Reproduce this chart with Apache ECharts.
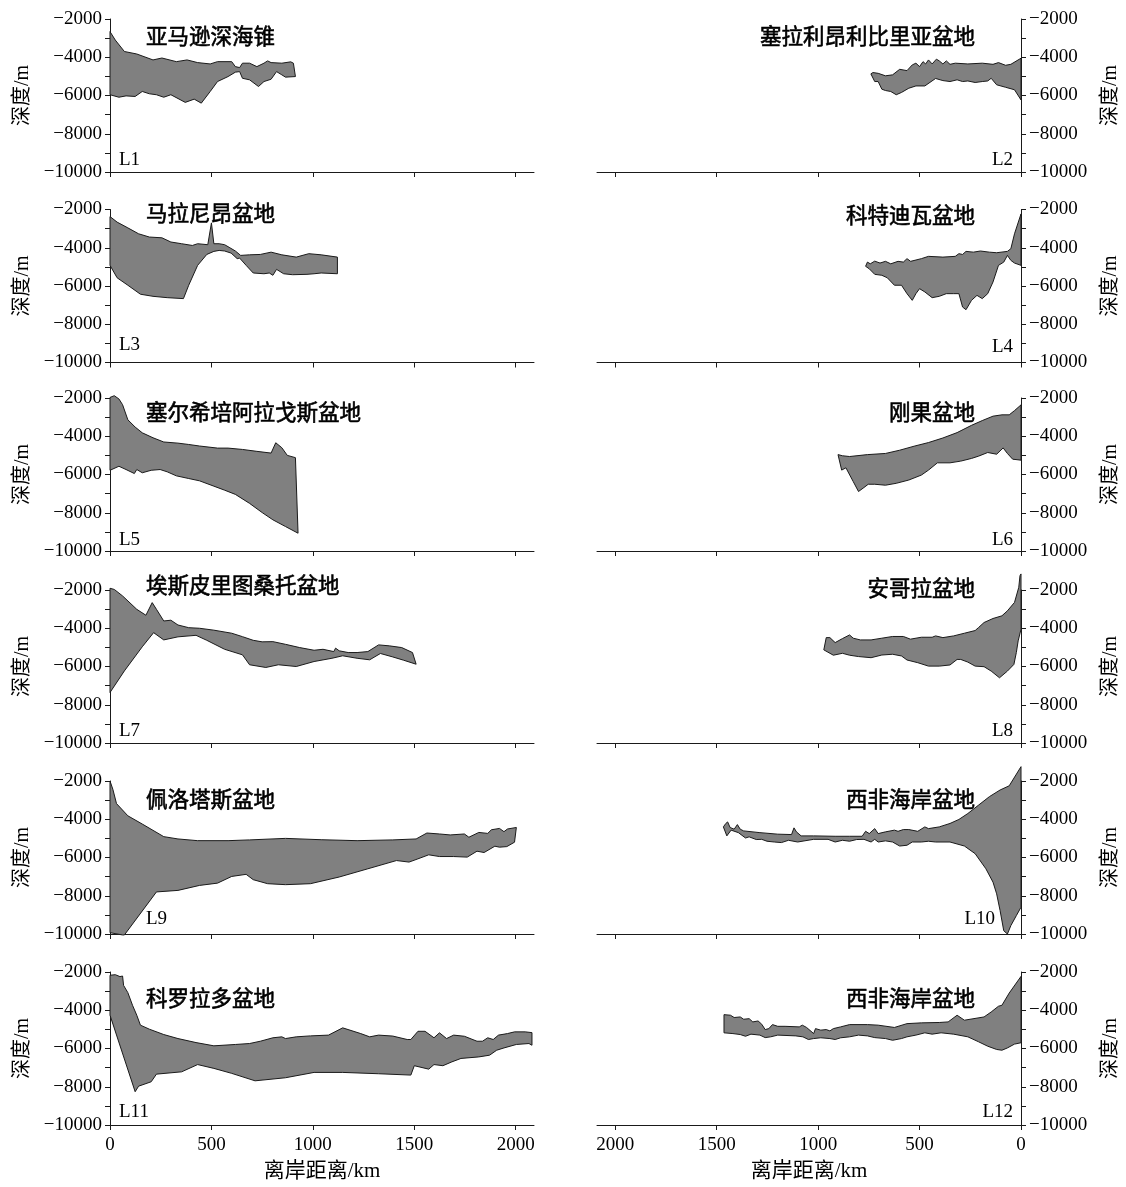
<!DOCTYPE html>
<html><head><meta charset="utf-8">
<script src="https://cdn.jsdelivr.net/npm/echarts@6/dist/echarts.min.js"></script>
<style>html,body{margin:0;padding:0;background:#fff}#c{width:1126px;height:1187px}</style>
</head><body><div id="c"></div>
<script>
// ---- tick labels ----
const xTickLabels = [0, 500, 1000, 1500, 2000];
const yTickLabels = [-10000, -8000, -6000, -4000, -2000];

// ---- panel names / titles ----
const panelNames = ['L1','L2','L3','L4','L5','L6','L7','L8','L9','L10','L11','L12'];
const panelTitles = ['亚马逊深海锥','塞拉利昂利比里亚盆地','马拉尼昂盆地','科特迪瓦盆地','塞尔希培阿拉戈斯盆地','刚果盆地',
  '埃斯皮里图桑托盆地','安哥拉盆地','佩洛塔斯盆地','西非海岸盆地','科罗拉多盆地','西非海岸盆地'];

// ---- data: [distance offshore km, depth m] (top surface and bottom surface) ----
const L1_top = [[0,-2660],[26,-3100],[71,-3700],[132,-3830],[212,-4140],[256,-4040],[327,-4230],[380,-4140],[432,-4280],[494,-4350],[530,-4230],[600,-4230],[618,-4490],[639,-4540],[653,-4310],[688,-4310],[724,-4490],[759,-4310],[777,-4190],[794,-4280],[847,-4310],[891,-4240],[904,-4310],[914,-5010]];
const L1_bot = [[0,-5960],[44,-6090],[79,-6020],[124,-6050],[159,-5790],[194,-5910],[229,-5960],[265,-6090],[300,-5960],[371,-6360],[415,-6190],[450,-6400],[494,-5790],[530,-5270],[582,-5010],[618,-4780],[639,-4750],[653,-5100],[688,-5180],[732,-5530],[759,-5270],[794,-5150],[821,-4750],[847,-4920],[865,-5040],[914,-5010]];

const L2_top = [[740,-4870],[730,-4800],[704,-4840],[668,-4970],[633,-4920],[598,-4630],[562,-4700],[536,-4400],[518,-4310],[500,-4490],[483,-4230],[470,-4350],[456,-4140],[438,-4350],[417,-4100],[403,-4190],[385,-4350],[368,-4190],[350,-4370],[324,-4310],[262,-4350],[191,-4310],[138,-4370],[111,-4280],[76,-4420],[50,-4370],[0,-4050]];
const L2_bot = [[740,-4870],[721,-5270],[704,-5270],[686,-5670],[668,-5740],[642,-5790],[615,-5960],[589,-5840],[553,-5620],[518,-5500],[474,-5500],[421,-5110],[385,-5220],[350,-5270],[315,-5180],[288,-5270],[262,-5240],[226,-5320],[191,-5270],[164,-5240],[147,-5100],[120,-5440],[76,-5570],[32,-5700],[0,-6230]];

const L3_top = [[0,-2370],[35,-2660],[88,-2960],[141,-3270],[194,-3440],[256,-3480],[300,-3700],[353,-3790],[406,-3880],[432,-3790],[482,-3840],[500,-2700],[512,-3790],[538,-3790],[565,-3840],[591,-4000],[618,-4170],[644,-4400],[688,-4370],[741,-4350],[794,-4230],[847,-4370],[918,-4490],[980,-4310],[1041,-4370],[1121,-4490]];
const L3_bot = [[0,-4920],[35,-5570],[88,-5960],[150,-6430],[212,-6540],[282,-6610],[362,-6660],[388,-5960],[432,-4920],[477,-4350],[512,-4190],[538,-4140],[565,-4170],[597,-4280],[627,-4570],[639,-4540],[671,-4920],[706,-5320],[759,-5360],[785,-5320],[803,-5440],[821,-5130],[856,-5360],[900,-5410],[971,-5390],[1006,-5360],[1041,-5320],[1121,-5360]];

const L4_top = [[766,-4970],[757,-4750],[743,-4840],[721,-4700],[695,-4800],[668,-4710],[642,-4840],[606,-4710],[580,-4750],[562,-4570],[544,-4710],[491,-4570],[456,-4450],[385,-4490],[324,-4450],[306,-4310],[288,-4350],[271,-4190],[235,-4230],[200,-4170],[156,-4230],[120,-4260],[67,-4190],[50,-4050],[32,-3270],[0,-2230]];
const L4_bot = [[766,-4970],[748,-5100],[721,-5390],[686,-5440],[659,-5570],[624,-5960],[589,-5960],[562,-6400],[536,-6750],[518,-6400],[500,-6140],[474,-6310],[438,-6610],[403,-6540],[368,-6400],[332,-6400],[306,-6400],[288,-7100],[271,-7240],[244,-6750],[217,-6490],[191,-6660],[164,-6400],[138,-5790],[111,-4920],[85,-4750],[67,-4400],[50,-4660],[32,-4800],[0,-4920]];

const L5_top = [[0,-1970],[21,-1880],[44,-2050],[62,-2350],[88,-3140],[124,-3520],[159,-3820],[212,-4080],[265,-4300],[335,-4360],[388,-4430],[441,-4510],[530,-4620],[582,-4620],[653,-4690],[724,-4790],[794,-4880],[817,-4340],[847,-4600],[874,-5000],[914,-5120]];
const L5_bot = [[0,-5780],[44,-5570],[79,-5740],[120,-5950],[132,-5740],[159,-5910],[203,-5780],[247,-5740],[282,-5860],[327,-6070],[388,-6210],[441,-6330],[512,-6610],[565,-6820],[618,-7040],[688,-7510],[750,-7990],[803,-8370],[865,-8720],[927,-9070]];

const L6_top = [[902,-4960],[880,-5020],[845,-5060],[757,-4960],[668,-4900],[598,-4730],[527,-4520],[456,-4330],[385,-4090],[315,-3810],[244,-3430],[191,-3180],[138,-2950],[94,-2880],[58,-2880],[32,-2660],[0,-2360]];
const L6_bot = [[902,-4960],[884,-5770],[863,-5650],[827,-6370],[801,-6890],[774,-6680],[753,-6510],[721,-6510],[668,-6560],[615,-6460],[553,-6290],[491,-6030],[456,-5770],[412,-5390],[350,-5390],[297,-5300],[244,-5160],[209,-5040],[164,-4850],[120,-4940],[88,-4610],[67,-4900],[41,-5200],[0,-5250]];

const L7_top = [[0,-1910],[21,-1970],[62,-2310],[132,-3010],[177,-3320],[208,-2660],[229,-3010],[265,-3620],[300,-3580],[335,-3830],[388,-3970],[441,-4000],[512,-4100],[600,-4260],[653,-4440],[706,-4630],[750,-4710],[803,-4700],[865,-4840],[935,-5010],[1006,-5150],[1050,-5100],[1103,-5220],[1112,-5040],[1130,-5180],[1174,-5270],[1218,-5270],[1271,-5220],[1324,-4870],[1377,-4920],[1438,-5010],[1491,-5270],[1509,-5880]];
const L7_bot = [[0,-7360],[71,-6230],[159,-4970],[215,-4230],[265,-4610],[335,-4450],[424,-4370],[477,-4630],[565,-5100],[653,-5390],[688,-5910],[768,-6050],[830,-5910],[918,-6000],[1006,-5740],[1094,-5570],[1147,-5440],[1218,-5570],[1280,-5650],[1333,-5320],[1394,-5500],[1447,-5670],[1509,-5880]];

const L8_top = [[972,-5130],[960,-4490],[942,-4490],[916,-4750],[880,-4540],[845,-4350],[827,-4520],[792,-4610],[739,-4610],[686,-4520],[633,-4430],[580,-4430],[545,-4570],[491,-4470],[438,-4470],[421,-4400],[385,-4490],[332,-4400],[279,-4260],[226,-4120],[209,-3960],[182,-3700],[138,-3490],[94,-3350],[67,-3090],[32,-2650],[11,-1860],[5,-1250],[0,-1160]];
const L8_bot = [[972,-5130],[925,-5410],[880,-5310],[845,-5410],[801,-5480],[739,-5540],[686,-5400],[633,-5360],[589,-5450],[562,-5660],[509,-5800],[456,-5980],[403,-5980],[350,-5920],[315,-5630],[297,-5630],[262,-5770],[226,-5980],[182,-6010],[147,-6240],[106,-6590],[67,-6240],[35,-5890],[23,-5270],[14,-4660],[0,-4050]];

const L9_top = [[0,-2000],[14,-2430],[32,-3180],[88,-3820],[159,-4250],[265,-4910],[335,-5030],[432,-5120],[582,-5120],[688,-5080],[865,-5000],[1041,-5070],[1218,-5120],[1394,-5080],[1509,-5030],[1562,-4720],[1624,-4770],[1677,-4820],[1747,-4770],[1769,-4940],[1818,-4690],[1862,-4740],[1880,-4550],[1920,-4480],[1942,-4650],[1959,-4510],[2003,-4430]];
const L9_bot = [[0,-9930],[62,-10050],[71,-10050],[229,-7800],[335,-7720],[441,-7460],[530,-7340],[600,-6990],[671,-6880],[706,-7160],[777,-7370],[865,-7420],[988,-7370],[1130,-7020],[1271,-6590],[1412,-6160],[1474,-6240],[1518,-6070],[1571,-5860],[1624,-5950],[1694,-5950],[1761,-5980],[1809,-5670],[1844,-5740],[1897,-5410],[1920,-5460],[1956,-5430],[1994,-5200],[2003,-4430]];

const L10_top = [[1467,-4400],[1455,-4220],[1446,-4140],[1434,-4430],[1414,-4520],[1398,-4280],[1384,-4520],[1367,-4610],[1287,-4700],[1199,-4780],[1131,-4800],[1119,-4450],[1107,-4660],[1084,-4870],[1022,-4870],[916,-4890],[845,-4890],[783,-4890],[766,-4630],[748,-4750],[721,-4490],[704,-4750],[668,-4660],[624,-4570],[606,-4630],[580,-4540],[553,-4540],[509,-4630],[474,-4400],[456,-4490],[403,-4400],[350,-4220],[306,-4010],[262,-3700],[209,-3260],[156,-2820],[103,-2470],[58,-2250],[0,-1250]];
const L10_bot = [[1467,-4400],[1450,-4870],[1429,-4570],[1393,-4700],[1358,-4980],[1340,-4920],[1305,-5060],[1278,-5050],[1252,-5150],[1216,-5190],[1181,-5220],[1146,-5100],[1101,-5190],[1022,-5050],[951,-5050],[916,-5190],[880,-5100],[845,-5150],[810,-5060],[774,-5050],[739,-5190],[721,-5050],[704,-5190],[668,-5130],[633,-5190],[598,-5400],[562,-5360],[536,-5190],[491,-5190],[456,-5150],[421,-5190],[350,-5190],[279,-5400],[226,-5800],[173,-6590],[138,-7290],[120,-7900],[103,-8780],[85,-9830],[67,-10000],[50,-9560],[23,-9040],[0,-8600]];

const L11_top = [[0,-2170],[26,-2140],[49,-2240],[62,-2210],[67,-2700],[88,-3080],[111,-3740],[132,-4260],[150,-4780],[194,-4990],[265,-5270],[335,-5480],[424,-5690],[512,-5860],[618,-5790],[688,-5740],[741,-5620],[803,-5440],[847,-5390],[865,-5480],[918,-5390],[988,-5340],[1077,-5300],[1147,-4920],[1236,-5220],[1280,-5390],[1324,-5300],[1394,-5350],[1465,-5530],[1483,-5530],[1518,-5100],[1553,-5100],[1597,-5440],[1624,-5180],[1659,-5480],[1694,-5300],[1747,-5360],[1809,-5620],[1836,-5620],[1862,-5440],[1889,-5530],[1915,-5300],[1959,-5220],[1994,-5130],[2047,-5130],[2080,-5170]];
const L11_bot = [[0,-4260],[124,-8260],[141,-7970],[203,-7740],[229,-7340],[353,-7220],[432,-6840],[512,-7040],[600,-7300],[715,-7690],[865,-7530],[1006,-7250],[1147,-7250],[1324,-7320],[1483,-7390],[1500,-6900],[1571,-7080],[1597,-6840],[1641,-6900],[1685,-6700],[1730,-6520],[1818,-6440],[1871,-6350],[1906,-6090],[1942,-5970],[2003,-5790],[2065,-5740],[2080,-5830]];

const L12_top = [[1464,-4230],[1432,-4260],[1414,-4380],[1384,-4350],[1367,-4470],[1340,-4440],[1322,-4610],[1296,-4560],[1278,-4730],[1261,-5010],[1243,-4960],[1225,-4750],[1199,-4840],[1163,-4840],[1093,-4870],[1078,-4780],[1057,-4900],[1022,-5220],[1013,-4960],[987,-5040],[960,-5010],[942,-5080],[925,-4960],[889,-4870],[845,-4750],[757,-4750],[704,-4780],[624,-4900],[562,-4700],[491,-4660],[403,-4640],[359,-4610],[315,-4260],[279,-4520],[182,-4350],[147,-4090],[111,-3790],[94,-3740],[58,-3100],[0,-2230]];
const L12_bot = [[1464,-5180],[1420,-5220],[1384,-5270],[1358,-5360],[1331,-5250],[1287,-5300],[1261,-5430],[1234,-5390],[1199,-5300],[1110,-5340],[1075,-5390],[1048,-5530],[1022,-5480],[987,-5440],[942,-5480],[916,-5530],[889,-5440],[845,-5390],[801,-5300],[757,-5340],[721,-5430],[668,-5480],[633,-5570],[589,-5480],[562,-5390],[518,-5300],[474,-5180],[438,-5250],[394,-5180],[332,-5250],[262,-5390],[209,-5650],[164,-5880],[120,-6050],[94,-6090],[67,-5970],[32,-5770],[0,-5700]];

const tops = [L1_top,L2_top,L3_top,L4_top,L5_top,L6_top,L7_top,L8_top,L9_top,L10_top,L11_top,L12_top];
const bots = [L1_bot,L2_bot,L3_bot,L4_bot,L5_bot,L6_bot,L7_bot,L8_bot,L9_bot,L10_bot,L11_bot,L12_bot];

// ---- layout ----
const rowTops = [19, 209.5, 398, 590, 781, 972];
const gridH = 153, gridW = 424;
const titleYs = [36, 36, 213, 215, 412, 412, 585, 588, 799, 799, 998, 998];
const labelYs = [160, 160, 345, 347, 540, 540, 731, 731, 919, 919, 1112, 1112];
const labelXs = [119, 1013, 119, 1013, 119, 1013, 119, 1013, 146, 995, 119, 1013];

const serif = '"Liberation Serif","Times New Roman",serif';
const cjk = '"Noto Sans CJK SC","Noto Sans",sans-serif';
const axisColor = '#1a1a1a';

const grids = [], xAxes = [], yAxes = [], series = [], graphics = [];
for (let i = 0; i < 12; i++) {
  const right = i % 2 === 1;
  const row = Math.floor(i / 2);
  const bottom = row === 5;
  grids.push({left: right ? 597 : 110, top: rowTops[row], width: gridW, height: gridH});
  xAxes.push({
    type: 'value', gridIndex: i, min: 0, max: 2090, interval: 500, inverse: right,
    axisLine: {show: true, onZero: false, lineStyle: {color: axisColor, width: 1}},
    axisTick: {show: true, length: 5, customValues: xTickLabels, lineStyle: {color: axisColor}},
    axisLabel: {show: bottom, customValues: xTickLabels, fontFamily: serif, fontSize: 19, color: '#000', margin: 11,
      formatter: v => String(v)},
    splitLine: {show: false},
    name: bottom ? '离岸距离/km' : '', nameLocation: 'middle', nameGap: 36,
    nameTextStyle: {fontFamily: serif + ',' + cjk, fontSize: 21, color: '#000'}
  });
  yAxes.push({
    type: 'value', gridIndex: i, min: -10000, max: -2000, interval: 1000,
    position: right ? 'right' : 'left',
    axisLine: {show: true, onZero: false, lineStyle: {color: axisColor, width: 1}},
    axisTick: {show: true, length: 5, lineStyle: {color: axisColor}},
    axisLabel: {show: true, customValues: yTickLabels, fontFamily: serif, fontSize: 19, color: '#000', margin: 8,
      formatter: v => '\u2212' + Math.abs(v)},
    splitLine: {show: false},
    name: '深度/m', nameLocation: 'middle', nameRotate: 90, nameGap: right ? 80 : 77,
    nameTextStyle: {fontFamily: serif + ',' + cjk, fontSize: 20, color: '#000'}
  });
  const poly = tops[i].concat(bots[i].slice().reverse());
  series.push({
    type: 'custom', xAxisIndex: i, yAxisIndex: i, clip: false, silent: true,
    data: poly,
    encode: {x: 0, y: 1},
    renderItem: (params, api) => {
      if (params.dataIndex !== 0) return null;
      const pts = poly.map(p => api.coord(p));
      return {type: 'polygon', shape: {points: pts},
        style: {fill: '#808080', stroke: '#1a1a1a', lineWidth: 1}};
    }
  });
  graphics.push({
    type: 'text', x: right ? 975 : 146, y: titleYs[i],
    style: {text: panelTitles[i], fontFamily: cjk, fontSize: 21.5, fill: '#000',
      stroke: '#000', lineWidth: 0.6,
      align: right ? 'right' : 'left', verticalAlign: 'middle'}
  });
  graphics.push({
    type: 'text', x: labelXs[i], y: labelYs[i],
    style: {text: panelNames[i], fontFamily: serif, fontSize: 19, fill: '#000',
      align: right ? 'right' : 'left', verticalAlign: 'middle'}
  });
}

const chart = echarts.init(document.getElementById('c'));
chart.setOption({
  animation: false,
  backgroundColor: '#fff',
  grid: grids, xAxis: xAxes, yAxis: yAxes, series: series, graphic: graphics
});
</script></body></html>
